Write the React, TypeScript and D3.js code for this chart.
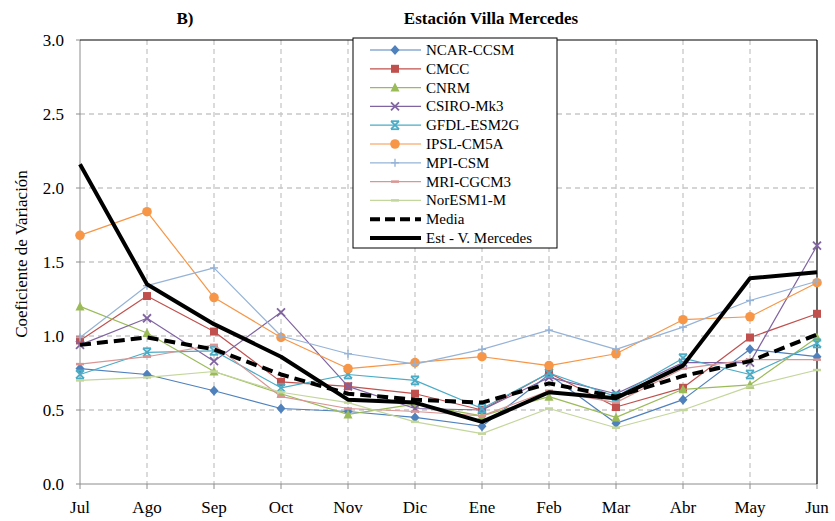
import React from "react";
import * as d3 from "d3";

const months = ["Jul", "Ago", "Sep", "Oct", "Nov", "Dic", "Ene", "Feb", "Mar", "Abr", "May", "Jun"];
const yTicks = [0, 0.5, 1.0, 1.5, 2.0, 2.5, 3.0];

const ncar = [0.78, 0.74, 0.63, 0.51, 0.49, 0.45, 0.39, 0.74, 0.41, 0.57, 0.91, 0.86];
const cmcc = [0.97, 1.27, 1.03, 0.69, 0.66, 0.61, 0.50, 0.75, 0.52, 0.65, 0.99, 1.15];
const cnrm = [1.20, 1.02, 0.76, 0.61, 0.47, 0.54, 0.46, 0.59, 0.45, 0.64, 0.67, 0.99];
const csiro = [0.94, 1.12, 0.83, 1.16, 0.66, 0.51, 0.50, 0.72, 0.61, 0.82, 0.82, 1.61];
const gfdl = [0.74, 0.89, 0.90, 0.65, 0.74, 0.70, 0.51, 0.75, 0.59, 0.85, 0.74, 0.95];
const ipsl = [1.68, 1.84, 1.26, 0.99, 0.78, 0.82, 0.86, 0.80, 0.88, 1.11, 1.13, 1.36];
const mpi = [0.99, 1.34, 1.46, 1.00, 0.88, 0.81, 0.91, 1.04, 0.91, 1.06, 1.24, 1.37];
const mri = [0.81, 0.86, 0.94, 0.59, 0.51, 0.49, 0.46, 0.63, 0.55, 0.78, 0.84, 0.84];
const noresm = [0.70, 0.72, 0.76, 0.62, 0.55, 0.42, 0.34, 0.51, 0.38, 0.50, 0.66, 0.77];
const media = [0.94, 0.99, 0.91, 0.74, 0.61, 0.57, 0.55, 0.68, 0.59, 0.73, 0.83, 1.01];
const estacion = [2.16, 1.35, 1.08, 0.86, 0.57, 0.55, 0.42, 0.62, 0.58, 0.80, 1.39, 1.43];

type Marker = "diamond" | "square" | "triangle" | "x" | "star" | "circle" | "plus" | "dash" | "none";

interface Series {
  name: string;
  values: number[];
  color: string;
  marker: Marker;
  width: number;
  dash?: string;
}

const series: Series[] = [
  { name: "NCAR-CCSM", values: ncar, color: "#4F81BD", marker: "diamond", width: 1.2 },
  { name: "CMCC", values: cmcc, color: "#C0504D", marker: "square", width: 1.2 },
  { name: "CNRM", values: cnrm, color: "#9BBB59", marker: "triangle", width: 1.2 },
  { name: "CSIRO-Mk3", values: csiro, color: "#8064A2", marker: "x", width: 1.2 },
  { name: "GFDL-ESM2G", values: gfdl, color: "#4BACC6", marker: "star", width: 1.2 },
  { name: "IPSL-CM5A", values: ipsl, color: "#F79646", marker: "circle", width: 1.2 },
  { name: "MPI-CSM", values: mpi, color: "#95B3D7", marker: "plus", width: 1.2 },
  { name: "MRI-CGCM3", values: mri, color: "#D99694", marker: "dash", width: 1.2 },
  { name: "NorESM1-M", values: noresm, color: "#C3D69B", marker: "dash", width: 1.2 },
  { name: "Media", values: media, color: "#000000", marker: "none", width: 4, dash: "11,6" },
  { name: "Est - V. Mercedes", values: estacion, color: "#000000", marker: "none", width: 4 },
];

const W = 835;
const H = 521;
const left = 80;
const right = 817;
const top = 40;
const bottom = 484;
const font = "'Liberation Serif', 'Times New Roman', serif";

function MarkerShape({ type, x, y, color }: { type: Marker; x: number; y: number; color: string }) {
  const s = 4;
  switch (type) {
    case "diamond":
      return <path d={`M${x},${y - s - 1}L${x + s + 0.5},${y}L${x},${y + s + 1}L${x - s - 0.5},${y}Z`} fill={color} />;
    case "square":
      return <rect x={x - s} y={y - s} width={2 * s} height={2 * s} fill={color} />;
    case "triangle":
      return <path d={`M${x},${y - s - 1}L${x + s + 0.5},${y + s}L${x - s - 0.5},${y + s}Z`} fill={color} />;
    case "x":
      return (
        <g stroke={color} strokeWidth={1.8}>
          <line x1={x - s} y1={y - s} x2={x + s} y2={y + s} />
          <line x1={x - s} y1={y + s} x2={x + s} y2={y - s} />
        </g>
      );
    case "star":
      return (
        <g stroke={color} strokeWidth={1.8}>
          <line x1={x - s} y1={y - s} x2={x + s} y2={y + s} />
          <line x1={x - s} y1={y + s} x2={x + s} y2={y - s} />
          <line x1={x - s} y1={y - s} x2={x + s} y2={y - s} />
          <line x1={x - s} y1={y + s} x2={x + s} y2={y + s} />
        </g>
      );
    case "circle":
      return <circle cx={x} cy={y} r={s + 0.8} fill={color} />;
    case "plus":
      return (
        <g stroke={color} strokeWidth={1.4}>
          <line x1={x - s} y1={y} x2={x + s} y2={y} />
          <line x1={x} y1={y - s} x2={x} y2={y + s} />
        </g>
      );
    case "dash":
      return <line x1={x - s} y1={y} x2={x + s} y2={y} stroke={color} strokeWidth={2.5} />;
    default:
      return null;
  }
}

export default function App() {
  const x = d3.scalePoint<string>().domain(months).range([left, right]);
  const y = d3.scaleLinear().domain([0, 3]).range([bottom, top]);

  const line = d3
    .line<number>()
    .x((_, i) => x(months[i]) as number)
    .y((d) => y(d));

  const legendX = 353;
  const legendY = 38;
  const legendW = 204;
  const legendH = 210;
  const rowH = 18.8;

  return (
    <svg width={W} height={H} style={{ position: "absolute", left: 0, top: 0, background: "#fff" }} fontFamily={font}>
      <rect x={0} y={0} width={W} height={H} fill="#fff" />
      {/* title */}
      <text x={185} y={24} fontSize={17} fontWeight="bold" textAnchor="middle">B)</text>
      <text x={491} y={24} fontSize={17} fontWeight="bold" textAnchor="middle">Estación Villa  Mercedes</text>

      {/* grid */}
      {yTicks.filter((t) => t > 0 && t < 3).map((t) => (
        <line key={`gy${t}`} x1={left} x2={right} y1={y(t)} y2={y(t)} stroke="#c8c8c8" strokeWidth={1.3} strokeDasharray="5,4" />
      ))}
      {months.slice(1, -1).map((m) => (
        <line key={`gx${m}`} x1={x(m)} x2={x(m)} y1={top} y2={bottom} stroke="#c8c8c8" strokeWidth={1.3} strokeDasharray="5,4" />
      ))}

      {/* axes */}
      <line x1={left} x2={left} y1={top} y2={bottom} stroke="#8c8c8c" strokeWidth={1} />
      <line x1={left} x2={right} y1={bottom} y2={bottom} stroke="#8c8c8c" strokeWidth={1} />
      <line x1={left} x2={right} y1={top} y2={top} stroke="#000" strokeWidth={1.2} />
      <line x1={right} x2={right} y1={top} y2={bottom} stroke="#000" strokeWidth={1.2} />
      {yTicks.map((t) => (
        <g key={`yt${t}`}>
          <line x1={left - 4} x2={left} y1={y(t)} y2={y(t)} stroke="#8c8c8c" />
          <text x={64} y={y(t) + 5.5} fontSize={17} textAnchor="end">{t.toFixed(1)}</text>
        </g>
      ))}
      {months.map((m) => (
        <g key={`xt${m}`}>
          <line x1={x(m)} x2={x(m)} y1={bottom} y2={bottom + 5} stroke="#8c8c8c" />
          <text x={x(m)} y={513} fontSize={17} textAnchor="middle">{m}</text>
        </g>
      ))}
      <text transform={`translate(27,254) rotate(-90)`} fontSize={17} textAnchor="middle">
        Coeficiente de Variación
      </text>

      {/* series */}
      {series.map((s) => (
        <g key={s.name}>
          <path d={line(s.values) ?? ""} fill="none" stroke={s.color} strokeWidth={s.width} strokeDasharray={s.dash} strokeLinejoin="round" />
          {s.values.map((v, i) => (
            <MarkerShape key={i} type={s.marker} x={x(months[i]) as number} y={y(v)} color={s.color} />
          ))}
        </g>
      ))}

      {/* legend */}
      <rect x={legendX} y={legendY} width={legendW} height={legendH} fill="#fff" stroke="#000" strokeWidth={1} />
      {series.map((s, i) => {
        const cy = legendY + 12 + i * rowH;
        return (
          <g key={`lg${s.name}`}>
            <line x1={370} x2={421} y1={cy} y2={cy} stroke={s.color} strokeWidth={s.width} strokeDasharray={s.dash ? "10,5" : undefined} />
            <MarkerShape type={s.marker} x={395} y={cy} color={s.color} />
            <text x={426} y={cy + 5} fontSize={15}>{s.name}</text>
          </g>
        );
      })}
    </svg>
  );
}
